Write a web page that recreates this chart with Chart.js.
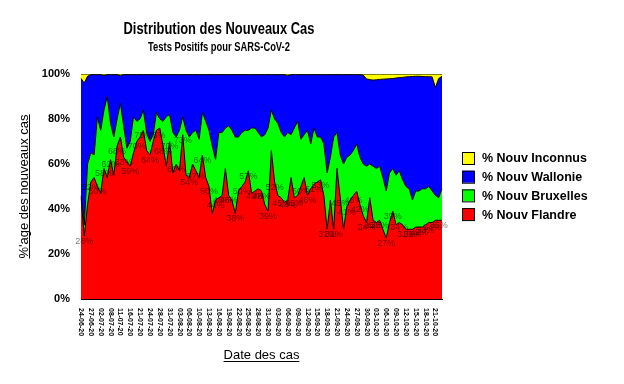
<!DOCTYPE html>
<html>
<head>
<meta charset="utf-8">
<script src="https://cdn.jsdelivr.net/npm/chart.js@4/dist/chart.umd.min.js"></script>
<style>
  body { margin: 0; background: #fff; }
  canvas { display: block; }
</style>
</head>
<body>
<canvas id="c" width="624" height="384"></canvas>
<script>
// dates des cas (jours manquants au début)
const dates = [
  "24-06-20","25-06-20","26-06-20","27-06-20","29-06-20","30-06-20","02-07-20","03-07-20","06-07-20",
  "08-07-20","09-07-20","10-07-20","11-07-20","13-07-20","14-07-20","16-07-20","17-07-20","20-07-20",
  "21-07-20","22-07-20","23-07-20","24-07-20","26-07-20","27-07-20","28-07-20","29-07-20","30-07-20",
  "31-07-20","01-08-20","02-08-20","03-08-20","04-08-20","05-08-20","06-08-20","07-08-20","09-08-20",
  "10-08-20","11-08-20","12-08-20","13-08-20","14-08-20","15-08-20","16-08-20","17-08-20","18-08-20",
  "19-08-20","20-08-20","21-08-20","22-08-20","23-08-20","24-08-20","25-08-20","26-08-20","27-08-20",
  "28-08-20","29-08-20","30-08-20","31-08-20","01-09-20","02-09-20","03-09-20","04-09-20","05-09-20",
  "06-09-20","07-09-20","08-09-20","09-09-20","10-09-20","11-09-20","12-09-20","13-09-20","14-09-20",
  "15-09-20","16-09-20","17-09-20","18-09-20","19-09-20","20-09-20","21-09-20","22-09-20","23-09-20",
  "24-09-20","25-09-20","26-09-20","27-09-20","28-09-20","29-09-20","30-09-20","01-10-20","02-10-20",
  "03-10-20","04-10-20","05-10-20","06-10-20","07-10-20","08-10-20","09-10-20","10-10-20","11-10-20",
  "12-10-20","13-10-20","14-10-20","15-10-20","16-10-20","17-10-20","18-10-20","19-10-20","20-10-20",
  "21-10-20","22-10-20","23-10-20"
];

// % par région
const flandre = [
  45,28,42,52,54,50,47,58,54,62,55,68,72,63,61,59,65,70,72,75,66,64,70,75,76,68,59,70,56,60,
  57,73,55,54,60,57,54,64,54,50,38,44,45,46,58,46,44,38,48,50,52,57,47,48,49,48,42,39,66,52,
  46,45,43,44,54,45,46,50,54,46,49,51,52,53,46,31,44,31,58,45,31,41,44,46,48,42,37,34,45,35,
  34,35,31,27,34,39,33,34,33,31,31,31,32,32,32,33,34,34,35,35,35
];
const bruxelles = [
  1,5,18,13,10,31,28,26,36,16,17,12,15,14,6,11,16,9,8,9,8,6,3,8,4,11,22,12,18,12,
  18,8,20,18,14,18,17,19,25,25,30,18,29,28,18,31,31,34,24,24,23,18,29,28,25,24,31,37,18,28,
  32,29,29,30,19,31,33,21,19,29,20,25,20,19,23,25,19,41,16,19,29,22,20,20,21,21,23,25,15,24,
  24,24,23,21,22,19,22,23,20,19,18,13,16,16,17,16,16,14,11,10,14
];
const wallonie = [
  52,63,39,34.7,35.7,18.7,24.7,15.2,9.7,21.7,27.7,19.7,12.2,22.7,32.7,29.7,18.7,20.7,19.7,15.7,
  25.7,29.7,26.7,16.7,19.7,20.7,18.7,17.7,25.7,27.7,24.7,18.7,24.7,27.7,25.7,24.7,28.7,16.7,20.7,24.7,
  31.7,37.7,25.7,25.7,23.7,22.7,24.7,27.7,27.7,25.7,24.7,24.7,23.7,23.7,25.7,27.7,26.7,23.7,15.7,19.7,
  21.7,25.7,27.7,25.2,26.7,23.7,20.7,28.7,26.7,24.7,30.7,23.7,27.7,27.7,30.7,43.7,36.7,27.7,25.7,35.7,
  39.7,36.7,35.7,33.7,30.7,36.7,39.5,38.8,37.5,38.3,39.4,38.6,43.7,49.8,41.9,40,43.2,41.4,45.5,48.7,
  49.8,54.9,51,51,49.9,49.8,48.8,50.7,48,53,50
];
const inconnus = [
  2,4,1,0.3,0.3,0.3,0.3,0.8,0.3,0.3,0.3,0.3,0.8,0.3,0.3,0.3,0.3,0.3,0.3,0.3,
  0.3,0.3,0.3,0.3,0.3,0.3,0.3,0.3,0.3,0.3,0.3,0.3,0.3,0.3,0.3,0.3,0.3,0.3,0.3,0.3,
  0.3,0.3,0.3,0.3,0.3,0.3,0.3,0.3,0.3,0.3,0.3,0.3,0.3,0.3,0.3,0.3,0.3,0.3,0.3,0.3,
  0.3,0.3,0.3,0.8,0.3,0.3,0.3,0.3,0.3,0.3,0.3,0.3,0.3,0.3,0.3,0.3,0.3,0.3,0.3,0.3,
  0.3,0.3,0.3,0.3,0.3,0.3,0.5,2.2,2.5,2.7,2.6,2.4,2.3,2.2,2.1,2.0,1.8,1.6,1.5,1.3,
  1.2,1.1,1.0,1.0,1.1,1.2,1.2,1.3,6,2,1
];
const yTicks = [0, 20, 40, 60, 80, 100];

const legendItems = [
  { text: "% Nouv Inconnus", color: "#ffff00" },
  { text: "% Nouv Wallonie", color: "#0000ff" },
  { text: "% Nouv Bruxelles", color: "#00ff00" },
  { text: "% Nouv Flandre", color: "#ff0000" }
];

function underline(ctx, x1, x2, y) {
  ctx.beginPath();
  ctx.moveTo(x1, y);
  ctx.lineTo(x2, y);
  ctx.stroke();
}

// titres, étiquettes, légende... dessinés à la main
const decor = {
  id: "decor",
  afterDraw(chart) {
    const ctx = chart.ctx;
    const xs = chart.scales.x;
    const ys = chart.scales.y;
    const area = chart.chartArea;
    ctx.save();
    ctx.fillStyle = "#000";
    ctx.strokeStyle = "#000";
    ctx.lineWidth = 1;

    // titre (police étroite)
    ctx.textAlign = "center";
    ctx.textBaseline = "alphabetic";
    ctx.save();
    ctx.translate(219, 34);
    ctx.scale(0.76, 1);
    ctx.font = "bold 17px 'Liberation Sans', Arial";
    ctx.fillText("Distribution des Nouveaux Cas", 0, 0);
    ctx.restore();
    ctx.save();
    ctx.translate(219, 51);
    ctx.scale(0.78, 1);
    ctx.font = "bold 12px 'Liberation Sans', Arial";
    ctx.fillText("Tests Positifs pour SARS-CoV-2", 0, 0);
    ctx.restore();

    // labels de valeur (Flandre)
    ctx.font = "9px 'Liberation Sans', Arial";
    ctx.fillStyle = "rgba(0,0,0,0.55)";
    ctx.textBaseline = "top";
    flandre.forEach((v, i) => {
      if (i % 2 !== 1) return;
      ctx.fillText(Math.round(v) + "%", xs.getPixelForValue(i), ys.getPixelForValue(v) + 1);
    });

    // dates en vertical
    ctx.fillStyle = "#000";
    ctx.font = "bold 7px 'Liberation Sans', Arial";
    ctx.textAlign = "left";
    ctx.textBaseline = "middle";
    dates.forEach((d, i) => {
      if (i % 3 !== 0) return;
      ctx.save();
      ctx.translate(xs.getPixelForValue(i), area.bottom + 9);
      ctx.rotate(Math.PI / 2);
      ctx.fillText(d, 0, 0);
      ctx.restore();
    });

    // titres des axes (soulignés)
    ctx.font = "13px 'Liberation Sans', Arial";
    ctx.textAlign = "center";
    ctx.textBaseline = "alphabetic";
    const xt = "Date des cas";
    const xc = (area.left + area.right) / 2;
    const xw = ctx.measureText(xt).width;
    ctx.fillText(xt, xc, 359);
    underline(ctx, xc - xw / 2, xc + xw / 2, 361.5);

    const yt = "%'age des nouveaux cas";
    const yc = (area.top + area.bottom) / 2;
    const yw = ctx.measureText(yt).width;
    ctx.save();
    ctx.translate(28, yc);
    ctx.rotate(-Math.PI / 2);
    ctx.fillText(yt, 0, 0);
    underline(ctx, -yw / 2, yw / 2, 1.5);
    ctx.restore();

    // légende
    ctx.font = "bold 12.5px 'Liberation Sans', Arial";
    ctx.textAlign = "left";
    ctx.textBaseline = "middle";
    legendItems.forEach((it, k) => {
      const y = 152 + k * 18.7;
      ctx.fillStyle = it.color;
      ctx.fillRect(462, y, 12, 12);
      ctx.strokeRect(462.5, y + 0.5, 12, 12);
      ctx.fillStyle = "#000";
      ctx.fillText(it.text, 482, y + 7);
    });
    ctx.restore();
  }
};

const serie = (label, data, color, fill) => ({
  label, data, fill,
  backgroundColor: color,
  borderColor: "#000",
  borderWidth: 1,
  pointRadius: 0,
  tension: 0
});

new Chart(document.getElementById("c"), {
  type: "line",
  data: {
    labels: dates,
    datasets: [
      serie("% Nouv Flandre", flandre, "#ff0000", "origin"),
      serie("% Nouv Bruxelles", bruxelles, "#00ff00", "-1"),
      serie("% Nouv Wallonie", wallonie, "#0000ff", "-1"),
      serie("% Nouv Inconnus", inconnus, "#ffff00", "-1")
    ]
  },
  options: {
    responsive: false,
    animation: false,
    layout: {
      padding: { left: 41, right: 182, top: 74, bottom: 85 }
    },
    plugins: {
      legend: { display: false },
      title: { display: false },
      tooltip: { enabled: false }
    },
    scales: {
      x: {
        grid: { display: false },
        border: { color: "#000" },
        ticks: { display: false },
        afterFit(s) { s.height = 0; }
      },
      y: {
        stacked: true,
        min: 0,
        max: 100,
        afterBuildTicks(s) { s.ticks = yTicks.map(v => ({ value: v })); },
        grid: { display: false, drawTicks: false },
        border: { color: "#000" },
        ticks: {
          padding: 11,
          color: "#000",
          font: { size: 11, weight: "bold", family: "'Liberation Sans', Arial" },
          callback: v => v + "%"
        },
        afterFit(s) { s.width = 40; }
      }
    }
  },
  plugins: [decor]
});
</script>
</body>
</html>
